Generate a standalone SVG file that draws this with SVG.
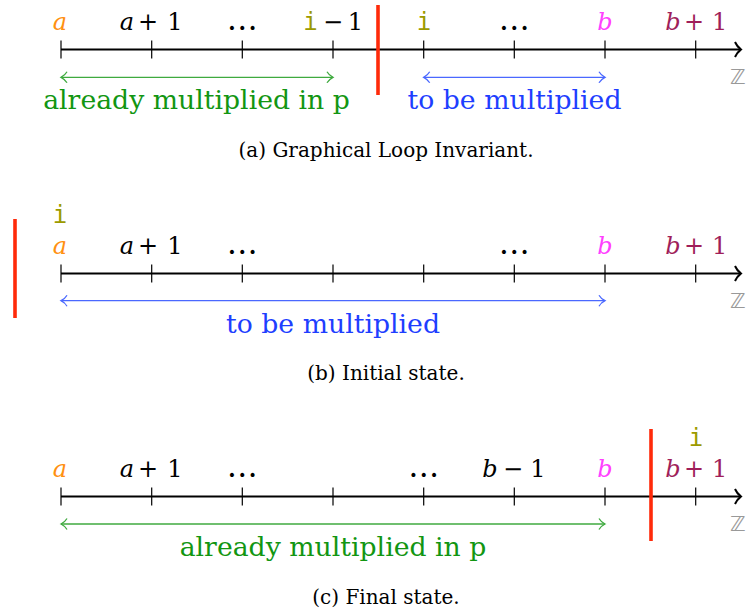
<svg xmlns="http://www.w3.org/2000/svg" width="746" height="610" viewBox="0 0 746 610">
<style>
.axis{stroke:#000;stroke-width:2;fill:none}
.tick{stroke:#000;stroke-width:1.2}
.red{stroke:#FF2A0A;stroke-width:3.6}
.m{font-family:"DejaVu Serif",serif;font-size:24px;text-anchor:middle}
.dots{font-family:"DejaVu Serif",serif;font-size:31px;text-anchor:middle}
.it{font-style:italic}
.tt{font-family:"DejaVu Sans Mono",monospace;font-size:24px;text-anchor:middle;fill:#9C9A00}
.txt{font-family:"DejaVu Serif",serif;font-size:26.7px;text-anchor:middle}
.cap{font-family:"DejaVu Serif",serif;font-size:20px;text-anchor:middle;fill:#000}
.zz{font-family:"DejaVu Sans",sans-serif;font-size:21px;fill:#999}
.ga{stroke:#3FAA3F;stroke-width:1.3;fill:none}
.ba{stroke:#4A68FF;stroke-width:1.3;fill:none}
.cA{fill:#FF9010}.cB{fill:#FF40FF}.cC{fill:#A01E5A}
.gt{fill:#129612}.bt{fill:#1E3EFF}
</style>
<defs>
<marker id="ax" markerUnits="userSpaceOnUse" orient="auto" overflow="visible" markerWidth="1" markerHeight="1">
<path d="M -6 -7.5 C -4 -3 -1 -0.8 0 0 C -1 0.8 -4 3 -6 7.5" stroke="#000" stroke-width="2" fill="none"/>
</marker>
<marker id="mg" markerUnits="userSpaceOnUse" orient="auto-start-reverse" overflow="visible" markerWidth="1" markerHeight="1">
<path d="M -6 -5.5 C -4 -2 -1 -0.5 0 0 C -1 0.5 -4 2 -6 5.5" stroke="#3FAA3F" stroke-width="1.3" fill="none"/>
</marker>
<marker id="mb" markerUnits="userSpaceOnUse" orient="auto-start-reverse" overflow="visible" markerWidth="1" markerHeight="1">
<path d="M -6 -5.5 C -4 -2 -1 -0.5 0 0 C -1 0.5 -4 2 -6 5.5" stroke="#4A68FF" stroke-width="1.3" fill="none"/>
</marker>
<g id="ticks">
<line class="tick" x1="61" y1="-9" x2="61" y2="9"/>
<line class="tick" x1="151.7" y1="-9" x2="151.7" y2="9"/>
<line class="tick" x1="242.3" y1="-9" x2="242.3" y2="9"/>
<line class="tick" x1="333" y1="-9" x2="333" y2="9"/>
<line class="tick" x1="423.7" y1="-9" x2="423.7" y2="9"/>
<line class="tick" x1="514.3" y1="-9" x2="514.3" y2="9"/>
<line class="tick" x1="605" y1="-9" x2="605" y2="9"/>
<line class="tick" x1="695.7" y1="-9" x2="695.7" y2="9"/>
<line class="axis" x1="61" y1="0" x2="741" y2="0" marker-end="url(#ax)"/>
</g>
</defs>

<!-- Panel (a) -->
<g id="panel-a">
<use href="#ticks" y="49.5"/>
<text class="zz" x="730" y="84">ℤ</text>
<g id="a-labels">
<text class="m it cA" x="60" y="30">a</text>
<text class="m"><tspan class="it" x="127" y="30">a</tspan><tspan x="148" y="30">+</tspan><tspan x="175" y="30">1</tspan></text>
<text class="dots" x="242.3" y="30">…</text>
<text class="tt" x="310.5" y="30">i</text>
<text class="m"><tspan x="333" y="30">−</tspan><tspan x="355.5" y="30">1</tspan></text>
<text class="tt" x="424" y="30">i</text>
<text class="dots" x="514.3" y="30">…</text>
<text class="m it cB" x="605" y="30">b</text>
<text class="m cC"><tspan class="it" x="673" y="30">b</tspan><tspan x="694" y="30">+</tspan><tspan x="719.7" y="30">1</tspan></text>
</g>
<line id="a-split" class="red" x1="378" y1="5" x2="378" y2="95"/>
<text class="txt gt" x="196.5" y="109">already multiplied in p</text>
<text class="txt bt" x="514.5" y="109">to be multiplied</text>
<text class="cap" x="386" y="157">(a) Graphical Loop Invariant.</text>
</g>

<!-- Panel (b) -->
<g id="panel-b">
<use href="#ticks" y="273.5"/>
<text class="zz" x="730" y="308">ℤ</text>
<g id="b-labels">
<text class="tt" x="60" y="223">i</text>
<text class="m it cA" x="60" y="254">a</text>
<text class="m"><tspan class="it" x="127" y="254">a</tspan><tspan x="148" y="254">+</tspan><tspan x="175" y="254">1</tspan></text>
<text class="dots" x="242.3" y="254">…</text>
<text class="dots" x="514.3" y="254">…</text>
<text class="m it cB" x="605" y="254">b</text>
<text class="m cC"><tspan class="it" x="673" y="254">b</tspan><tspan x="694" y="254">+</tspan><tspan x="719.7" y="254">1</tspan></text>
</g>
<line id="b-split" class="red" x1="15" y1="219" x2="15" y2="318"/>
<text class="txt bt" x="333" y="333">to be multiplied</text>
<text class="cap" x="386" y="380">(b) Initial state.</text>
</g>

<!-- Panel (c) -->
<g id="panel-c">
<use href="#ticks" y="496.5"/>
<text class="zz" x="730" y="531">ℤ</text>
<g id="c-labels">
<text class="m it cA" x="60" y="477">a</text>
<text class="m"><tspan class="it" x="127" y="477">a</tspan><tspan x="148" y="477">+</tspan><tspan x="175" y="477">1</tspan></text>
<text class="dots" x="242.3" y="477">…</text>
<text class="dots" x="423.7" y="477">…</text>
<text class="m"><tspan class="it" x="490" y="477">b</tspan><tspan x="513" y="477">−</tspan><tspan x="538" y="477">1</tspan></text>
<text class="m it cB" x="605" y="477">b</text>
<text class="tt" x="696" y="446">i</text>
<text class="m cC"><tspan class="it" x="673" y="477">b</tspan><tspan x="694" y="477">+</tspan><tspan x="719.7" y="477">1</tspan></text>
</g>
<line id="c-split" class="red" x1="651" y1="429" x2="651" y2="541"/>
<text class="txt gt" x="333" y="556">already multiplied in p</text>
<text class="cap" x="386" y="604">(c) Final state.</text>
</g>

<!-- Connectors -->
<g id="connectors">
<line class="ga" x1="61" y1="77.3" x2="333" y2="77.3" marker-start="url(#mg)" marker-end="url(#mg)"/>
<line class="ba" x1="423.7" y1="77.3" x2="605" y2="77.3" marker-start="url(#mb)" marker-end="url(#mb)"/>
<line class="ba" x1="61" y1="300.7" x2="605" y2="300.7" marker-start="url(#mb)" marker-end="url(#mb)"/>
<line class="ga" x1="61" y1="524" x2="605" y2="524" marker-start="url(#mg)" marker-end="url(#mg)"/>
</g>
</svg>
